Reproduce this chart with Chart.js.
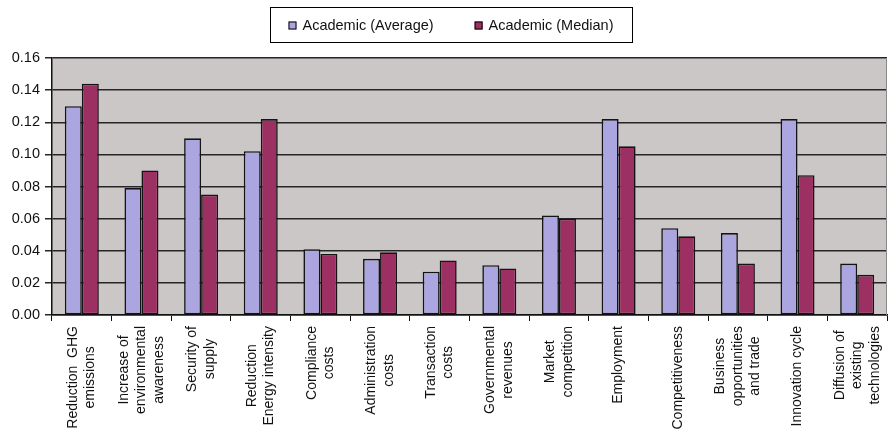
<!DOCTYPE html>
<html lang="en">
    <head>
        <meta charset="UTF-8">
        <title>Academic average vs median</title>
        <script src="https://cdn.jsdelivr.net/npm/chart.js@4.4.1/dist/chart.umd.min.js"></script>
        <style>
            body, html {
                margin: 0;
                padding: 0;
                background-color: #ffffff;
            }
            #wrap {
                width: 889px;
                height: 438px;
            }
        </style>
    </head>
    <body>
        <div id="wrap"><canvas id="myChart" width="889" height="438"></canvas></div>
    </body>
    <script>
        // categories (each entry = label lines)
        var categories = [
            ["Reduction  GHG", "emissions"],
            ["Increase of", "environmental", "awareness"],
            ["Security of", "supply"],
            ["Reduction", "Energy intensity"],
            ["Compliance", "costs"],
            ["Administration", "costs"],
            ["Transaction", "costs"],
            ["Governmental", "revenues"],
            ["Market", "competition"],
            ["Employment"],
            ["Competitiveness"],
            ["Business", "opportunities", "and trade"],
            ["Innovation cycle"],
            ["Diffusion of", "existing", "technologies"]
        ]
        var seriesNames = ["Academic (Average)", "Academic (Median)"]
        var averageValues = [0.130, 0.079, 0.110, 0.102, 0.041, 0.035, 0.027, 0.031, 0.062, 0.122, 0.054, 0.051, 0.122, 0.032]
        var medianValues = [0.144, 0.090, 0.075, 0.122, 0.038, 0.039, 0.034, 0.029, 0.060, 0.105, 0.049, 0.032, 0.087, 0.025]
        var yTicks = [0, 0.02, 0.04, 0.06, 0.08, 0.10, 0.12, 0.14, 0.16]

        var colors = ['#aba5e0', '#9c3063']
        var fontFamily = "'Liberation Sans', Arial, sans-serif"

        // gray plot background + right border
        var plotBackground = {
            id: 'plotBackground',
            beforeDraw: (chart) => {
                var a = chart.chartArea
                var ctx = chart.ctx
                ctx.save()
                ctx.fillStyle = '#cbc7c6'
                ctx.fillRect(a.left, a.top, a.right - a.left, a.bottom - a.top)
                ctx.restore()
            },
            afterDraw: (chart) => {
                var a = chart.chartArea
                var ctx = chart.ctx
                ctx.save()
                ctx.strokeStyle = '#8a8a8a'
                ctx.lineWidth = 1
                ctx.beginPath()
                ctx.moveTo(a.right - 0.5, a.top)
                ctx.lineTo(a.right - 0.5, a.bottom)
                ctx.stroke()
                ctx.restore()
            }
        }

        // rotated, centred multi-line category labels
        var categoryLabels = {
            id: 'categoryLabels',
            afterDraw: (chart) => {
                var ctx = chart.ctx
                var xScale = chart.scales.x
                var top = xScale.top + 11
                var lineGap = 17.5
                ctx.save()
                ctx.font = '14px ' + fontFamily
                ctx.fillStyle = '#111'
                ctx.textAlign = 'center'
                ctx.textBaseline = 'middle'
                categories.forEach((lines, i) => {
                    var x = xScale.getPixelForTick(i)
                    var maxW = Math.max(...lines.map(l => ctx.measureText(l).width))
                    ctx.save()
                    ctx.translate(x, top)
                    ctx.rotate(-Math.PI / 2)
                    lines.forEach((l, j) => {
                        ctx.fillText(l, -maxW / 2, (j - (lines.length - 1) / 2) * lineGap)
                    })
                    ctx.restore()
                })
                ctx.restore()
            }
        }

        // boxed legend above the plot
        var boxLegend = {
            id: 'boxLegend',
            afterDraw: (chart) => {
                var ctx = chart.ctx
                ctx.save()
                ctx.font = '14.5px ' + fontFamily
                ctx.strokeStyle = '#000'
                ctx.lineWidth = 1
                ctx.strokeRect(270.5, 7.5, 362, 35)
                var widths = seriesNames.map(n => ctx.measureText(n).width)
                var marker = 8, gapText = 6, gapItem = 41
                var total = widths.reduce((s, w) => s + marker + gapText + w, 0) + gapItem
                var x = 451 - total / 2
                var y = 25.5
                ctx.textBaseline = 'middle'
                ctx.fillStyle = '#111'
                seriesNames.forEach((n, i) => {
                    ctx.fillStyle = colors[i]
                    ctx.fillRect(x, y - 4, marker, marker)
                    ctx.strokeRect(x + 0.5, y - 3.5, marker - 1, marker - 1)
                    ctx.fillStyle = '#111'
                    ctx.fillText(n, x + marker + gapText, y + 0.5)
                    x += marker + gapText + widths[i] + gapItem
                })
                ctx.restore()
            }
        }

        var ctx = document.getElementById('myChart').getContext('2d')
        var myChart = new Chart(ctx, {
            type: 'bar',
            data: {
                labels: categories.map(c => c.join(' ')),
                datasets: [
                    {
                        label: seriesNames[0],
                        data: averageValues,
                        backgroundColor: colors[0],
                        borderColor: '#141414',
                        borderWidth: 1.6,
                        borderSkipped: false,
                    },
                    {
                        label: seriesNames[1],
                        data: medianValues,
                        backgroundColor: colors[1],
                        borderColor: '#141414',
                        borderWidth: 1.6,
                        borderSkipped: false,
                    }
                ]
            },
            options: {
                responsive: false,
                animation: false,
                layout: {
                    padding: { top: 58, right: 2, left: 0, bottom: 0 }
                },
                datasets: {
                    bar: {
                        categoryPercentage: 0.57,
                        barPercentage: 1.0,
                    }
                },
                scales: {
                    x: {
                        offset: true,
                        grid: {
                            offset: true,
                            drawOnChartArea: false,
                            drawTicks: true,
                            tickLength: 6,
                            color: '#111',
                        },
                        border: { color: '#111', width: 1.5 },
                        ticks: { display: false },
                        afterFit: (s) => { s.height = 123 },
                    },
                    y: {
                        min: 0,
                        max: 0.16,
                        afterBuildTicks: (s) => { s.ticks = yTicks.map(v => ({ value: v })) },
                        grid: {
                            color: '#262626',
                            lineWidth: 1.5,
                            tickLength: 7,
                        },
                        border: { color: '#111', width: 1.5 },
                        ticks: {
                            color: '#111',
                            padding: 5,
                            font: { family: fontFamily, size: 14.5 },
                            callback: (v) => Number(v).toFixed(2),
                        },
                        afterFit: (s) => { s.width = 52 },
                    },
                },
                plugins: {
                    legend: { display: false },
                    tooltip: { enabled: false },
                }
            },
            plugins: [plotBackground, categoryLabels, boxLegend]
        });
    </script>
</html>
